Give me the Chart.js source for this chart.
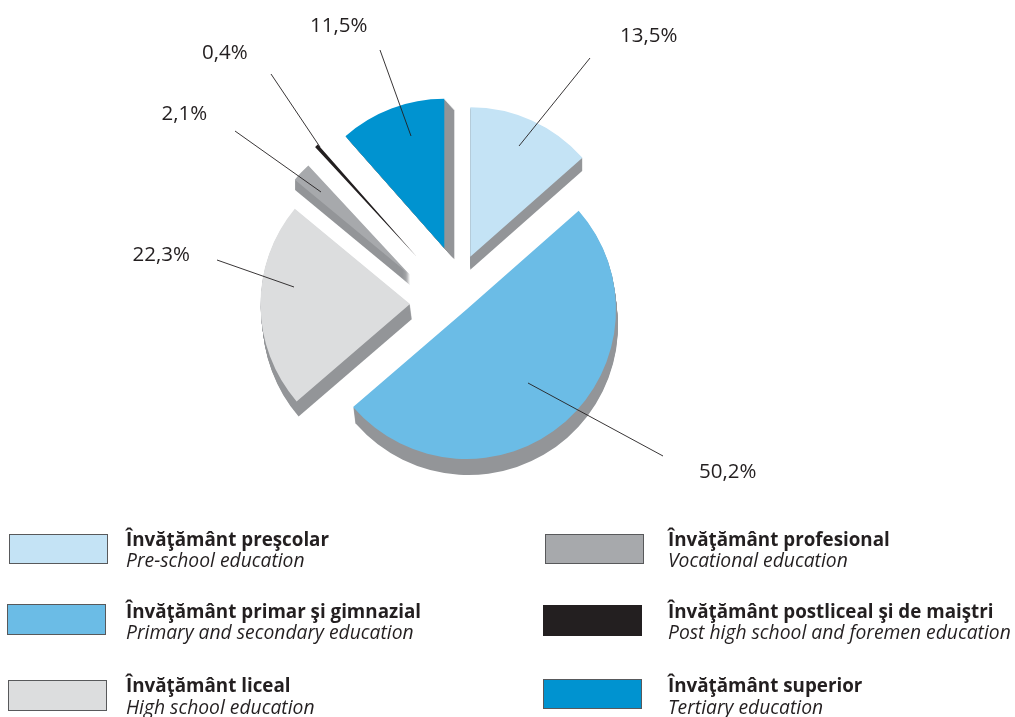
<!DOCTYPE html>
<html>
<head>
<meta charset="utf-8">
<style>html,body{margin:0;padding:0;background:#fff}canvas{display:block}</style>
<script src="https://cdn.jsdelivr.net/npm/chart.js@4"></script>
</head>
<body>
<canvas id="c" width="1015" height="717"></canvas>
<script>
const categoriesRo = ['Învăţământ preşcolar','Învăţământ primar şi gimnazial','Învăţământ liceal','Învăţământ profesional','Învăţământ postliceal şi de maiştri','Învăţământ superior'];
const categoriesEn = ['Pre-school education','Primary and secondary education','High school education','Vocational education','Post high school and foremen education','Tertiary education'];
const shares = [13.5,50.2,22.3,2.1,0.4,11.5];
const colors = ['#c4e3f5','#6bbce6','#dcddde','#a7a9ac','#231f20','#0093d0'];
const sideColor = '#939598';

const explodeX = [30.3,26.5,-30,-30,-23.3,4.3];
const explodeY = [-28.3,24.5,19,-10,-28.3,-36.7];
const depthX = [0,2,2,0,0,10];
const depthY = [13,16,15,10,0,11];
const leaderFrom = [[519,146],[528,383],[294,287],[321,192],[320,147],[411,136]];
const leaderTo = [[590,58],[663,456],[217,260],[235,131],[271,74],[380,50]];
const labelPos = [[620,42],[699,477.5],[132.5,260.5],[161.5,120],[202,58.5],[310,31.5]];
const legendBox = [[9.5,534.5,98,29],[7.5,604.5,98,30],[8.5,680.5,98,30],[545.5,534.5,98,29],[543.5,605.5,98,30],[543.5,679.5,98,29]];
const legendBase = [[126,546,567],[126,618,639],[126,692,714],[668,546,567],[668,618,639],[668,692,714]];

const ink = '#231f20';
const fontFamily = '"Open Sans", sans-serif';

const explodePlugin = {
  id:'explode',
  afterDatasetsUpdate(chart){
    chart.getDatasetMeta(0).data.forEach((a,i)=>{ a.x += explodeX[i]; a.y += explodeY[i]; });
  },
  beforeDatasetsDraw(chart){
    const ctx = chart.ctx;
    ctx.save();
    ctx.fillStyle = sideColor;
    chart.getDatasetMeta(0).data.forEach((a,i)=>{
      const steps = Math.ceil(Math.max(depthX[i],depthY[i]));
      for(let k=1;k<=steps;k++){
        const dx = depthX[i]*k/steps, dy = depthY[i]*k/steps;
        ctx.beginPath();
        ctx.moveTo(a.x+dx,a.y+dy);
        ctx.arc(a.x+dx,a.y+dy,a.outerRadius,a.startAngle,a.endAngle);
        ctx.closePath();
        ctx.fill();
      }
    });
    ctx.restore();
  },
  afterDatasetsDraw(chart){
    const ctx = chart.ctx;
    ctx.save();
    ctx.strokeStyle = ink;
    shares.forEach((v,i)=>{
      ctx.lineWidth = 0.9;
      ctx.strokeStyle = ink;
      ctx.beginPath();
      ctx.moveTo(leaderFrom[i][0],leaderFrom[i][1]);
      ctx.lineTo(leaderTo[i][0],leaderTo[i][1]);
      ctx.stroke();
      ctx.fillStyle = ink;
      ctx.font = '20.5px '+fontFamily;
      ctx.textAlign = 'left';
      ctx.textBaseline = 'alphabetic';
      ctx.fillText(v.toFixed(1).replace('.',',')+'%',labelPos[i][0],labelPos[i][1]);
    });
    categoriesRo.forEach((name,i)=>{
      const b = legendBox[i];
      ctx.fillStyle = colors[i];
      ctx.fillRect(b[0],b[1],b[2],b[3]);
      ctx.strokeStyle = i===4 ? colors[i] : '#58595b';
      ctx.lineWidth = 1;
      ctx.strokeRect(b[0],b[1],b[2],b[3]);
      const t = legendBase[i];
      ctx.fillStyle = ink;
      ctx.font = 'bold 18.8px '+fontFamily;
      ctx.fillText(name,t[0],t[1]);
      ctx.font = 'italic 19.3px '+fontFamily;
      ctx.fillText(categoriesEn[i],t[0],t[2]);
    });
    ctx.restore();
  }
};

new Chart(document.getElementById('c'),{
  type:'pie',
  data:{labels:categoriesRo,datasets:[{data:shares,backgroundColor:colors,borderWidth:0,hoverOffset:0}]},
  options:{
    responsive:false,
    animation:false,
    radius:149.5,
    layout:{padding:{left:0,top:0,right:135,bottom:147}},
    plugins:{legend:{display:false},tooltip:{enabled:false},title:{display:false}}
  },
  plugins:[explodePlugin]
});
</script>
</body>
</html>
